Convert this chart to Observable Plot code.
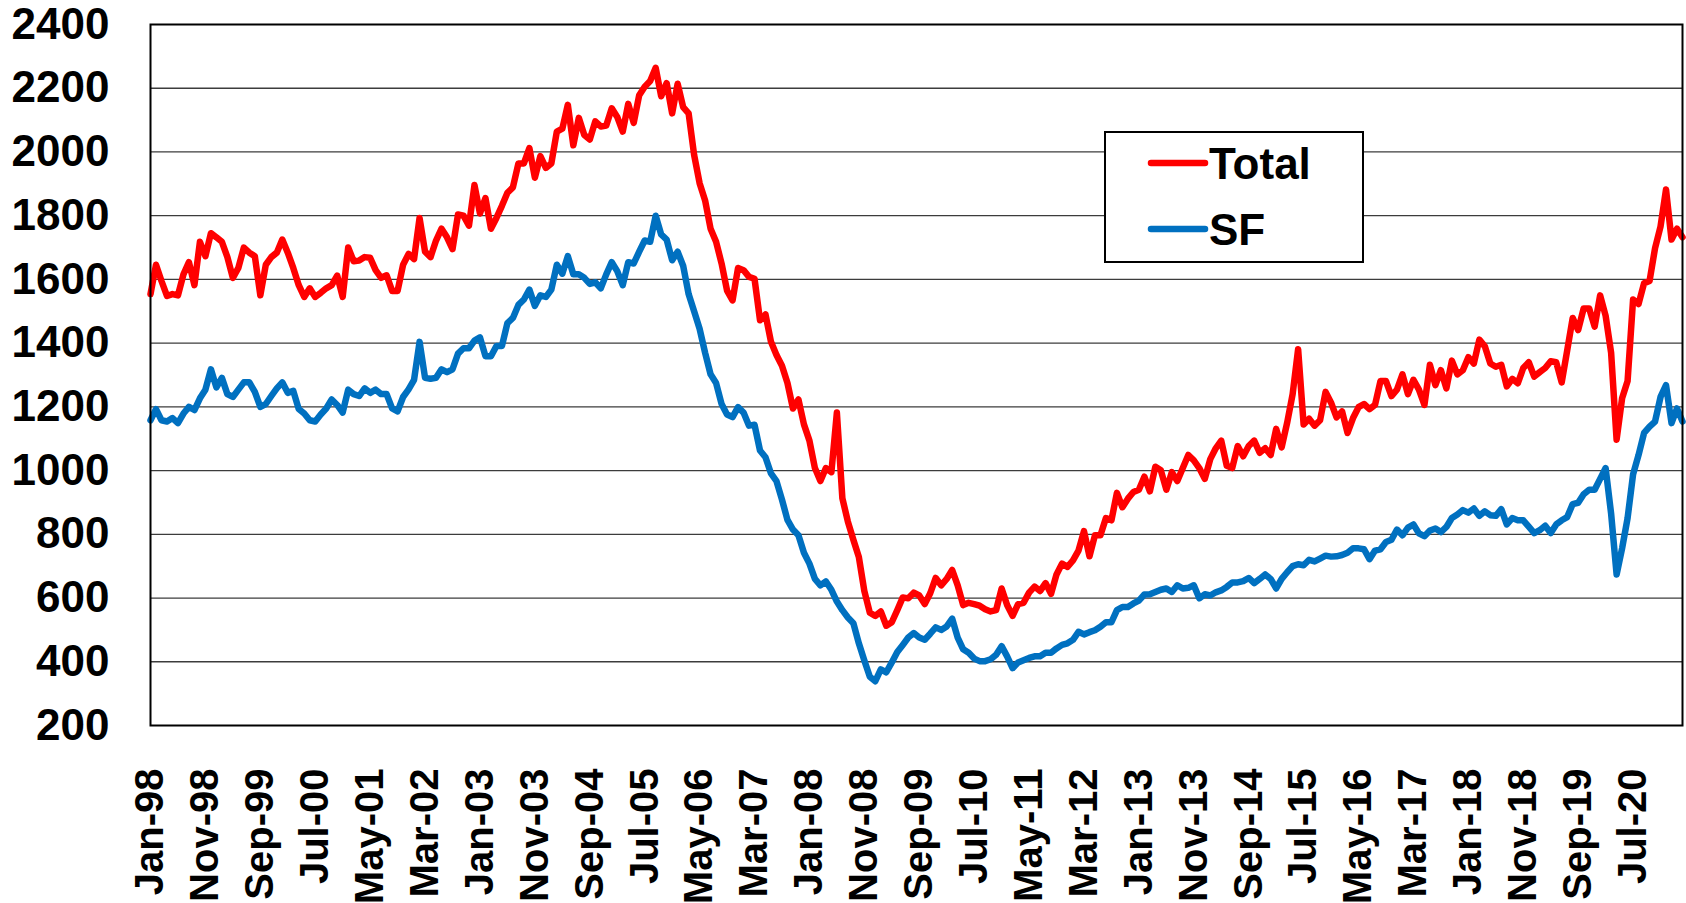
<!DOCTYPE html>
<html><head><meta charset="utf-8">
<script src="https://cdn.jsdelivr.net/npm/d3@7"></script>
<script src="https://cdn.jsdelivr.net/npm/@observablehq/plot@0.6"></script>
<style>
html,body{margin:0;padding:0;background:#fff;}
#wrap{position:relative;width:1686px;height:903px;overflow:hidden;font-family:"Liberation Sans",Arial,sans-serif;}
#legend{position:absolute;left:1104px;top:131px;width:260px;height:132px;}
</style>
</head><body>
<div id="wrap"><div id="chart"></div><div id="legend"></div></div>
<script>
// Monthly values, Jan-98 .. Apr-21 (one row per year)
const total = [
  1554,1646,1595,1548,1554,1550,1616,1654,1582,1718,1673,1745,
  1732,1718,1670,1605,1636,1700,1684,1673,1550,1646,1670,1684,
  1725,1684,1636,1582,1545,1572,1545,1558,1572,1582,1612,1545,
  1700,1657,1659,1670,1668,1629,1605,1613,1564,1564,1646,1680,
  1664,1793,1687,1670,1722,1759,1732,1695,1804,1800,1769,1896,
  1807,1855,1759,1793,1831,1872,1889,1964,1964,2012,1919,1987,
  1950,1964,2064,2073,2148,2021,2107,2053,2039,2096,2080,2083,
  2137,2110,2064,2151,2091,2178,2205,2223,2264,2175,2216,2121,
  2214,2141,2121,1991,1902,1848,1759,1718,1650,1565,1534,1636,
  1629,1608,1602,1472,1490,1404,1363,1329,1275,1195,1223,1145,
  1094,1008,967,1008,995,1182,913,840,783,729,622,554,
  544,558,513,524,562,602,599,617,608,581,615,663,
  640,660,688,640,578,585,581,576,565,558,562,630,
  578,544,581,585,617,636,622,647,613,674,708,698,
  718,749,810,731,797,797,851,844,930,885,912,933,
  940,981,935,1012,1001,940,995,967,1008,1049,1032,1008,
  974,1036,1070,1094,1015,1008,1077,1045,1077,1094,1056,1070,
  1049,1131,1073,1150,1240,1381,1145,1163,1141,1158,1247,1213,
  1167,1186,1118,1165,1199,1209,1193,1206,1281,1281,1234,1254,
  1302,1240,1285,1254,1206,1332,1268,1315,1258,1345,1302,1315,
  1356,1336,1411,1390,1336,1326,1332,1264,1288,1274,1322,1340,
  1295,1309,1322,1343,1340,1277,1377,1479,1441,1509,1509,1452,
  1550,1486,1370,1097,1227,1281,1537,1523,1588,1595,1698,1766,
  1882,1725,1759,1732
];
const sf = [
  1158,1193,1158,1154,1165,1149,1179,1200,1190,1227,1254,1318,
  1261,1291,1240,1231,1254,1277,1277,1247,1200,1209,1234,1258,
  1277,1244,1250,1193,1179,1158,1154,1176,1195,1223,1206,1182,
  1254,1240,1234,1258,1244,1254,1240,1240,1195,1186,1231,1255,
  1285,1404,1291,1288,1291,1318,1309,1318,1367,1384,1384,1408,
  1418,1359,1359,1391,1391,1463,1479,1520,1537,1568,1517,1550,
  1545,1568,1646,1618,1673,1616,1616,1605,1586,1591,1572,1616,
  1654,1626,1582,1654,1650,1687,1722,1718,1800,1741,1725,1660,
  1687,1643,1554,1500,1445,1370,1302,1275,1209,1176,1168,1199,
  1182,1141,1144,1063,1042,991,967,909,845,815,797,742,
  708,660,640,652,626,589,562,539,521,458,404,353,
  339,376,367,398,431,453,476,490,476,469,488,508,
  500,511,535,476,439,428,410,402,402,408,422,449,
  417,380,398,405,412,417,417,428,428,442,453,458,
  469,494,486,493,499,510,524,524,562,572,572,583,
  592,611,612,619,626,630,619,640,630,632,640,599,
  612,608,618,624,635,649,649,653,663,647,660,674,
  660,630,660,681,700,706,703,720,715,724,733,730,
  731,735,742,756,756,753,722,749,753,776,783,815,
  797,821,831,803,794,812,818,807,823,851,862,876,
  868,881,858,872,860,858,879,831,851,844,844,824,
  804,813,827,804,831,844,854,895,899,926,940,940,
  974,1008,865,674,756,851,988,1049,1118,1138,1154,1231,
  1268,1149,1195,1154
];
const seriesNames = ["Total", "SF"];
const seriesColors = ["#FF0000", "#0070C0"];
const xTickLabels = ["Jan-98","Nov-98","Sep-99","Jul-00","May-01","Mar-02","Jan-03","Nov-03","Sep-04","Jul-05",
  "May-06","Mar-07","Jan-08","Nov-08","Sep-09","Jul-10","May-11","Mar-12","Jan-13","Nov-13",
  "Sep-14","Jul-15","May-16","Mar-17","Jan-18","Nov-18","Sep-19","Jul-20"];
const yTicks = [200,400,600,800,1000,1200,1400,1600,1800,2000,2200,2400];
const labelStep = 10; // months between category labels

const rows = [];
[total, sf].forEach((arr, s) => arr.forEach((v, i) => rows.push({i, value: v, series: seriesNames[s]})));
const xTickIdx = xTickLabels.map((_, k) => k * labelStep);

const font = "'Liberation Sans', Arial, sans-serif";
const chart = Plot.plot({
  width: 1686, height: 903,
  marginLeft: 150, marginRight: 4, marginTop: 24, marginBottom: 178,
  style: {fontFamily: font, fontWeight: "bold", background: "#fff", color: "#000"},
  x: {type: "linear", domain: [0, total.length - 1]},
  y: {domain: [200, 2400]},
  color: {domain: seriesNames, range: seriesColors},
  marks: [
    Plot.gridY(yTicks.slice(1, -1), {stroke: "#3c3c3c", strokeOpacity: 1, strokeWidth: 1.3}),
    Plot.line(rows, {x: "i", y: "value", z: "series", stroke: "series", strokeWidth: 6.5, strokeLinejoin: "round", strokeLinecap: "round"}),
    Plot.frame({stroke: "#000", strokeWidth: 2}),
    Plot.axisY(yTicks, {tickSize: 0, tickPadding: 41, fontSize: 44, fontWeight: "bold", label: null,
      tickFormat: d => String(d)}),
    Plot.axisX(xTickIdx, {tickSize: 0, tickPadding: 43, tickRotate: -90, fontSize: 40, fontWeight: "bold", label: null,
      tickFormat: i => xTickLabels[i / labelStep]})
  ]
});
document.getElementById("chart").appendChild(chart);

// legend
const lg = d3.select("#legend").append("svg").attr("width", 260).attr("height", 132)
  .style("font-family", font).style("font-weight", "bold");
lg.append("rect").attr("x", 1).attr("y", 1).attr("width", 258).attr("height", 130)
  .attr("fill", "#fff").attr("stroke", "#000").attr("stroke-width", 2);
seriesNames.forEach((name, k) => {
  const cy = 32 + k * 66;
  lg.append("line").attr("x1", 47).attr("x2", 101).attr("y1", cy).attr("y2", cy)
    .attr("stroke", seriesColors[k]).attr("stroke-width", 6.5).attr("stroke-linecap", "round");
  lg.append("text").attr("x", 105).attr("y", cy + 16).attr("font-size", 44).attr("fill", "#000").text(name);
});
</script>
</body></html>
